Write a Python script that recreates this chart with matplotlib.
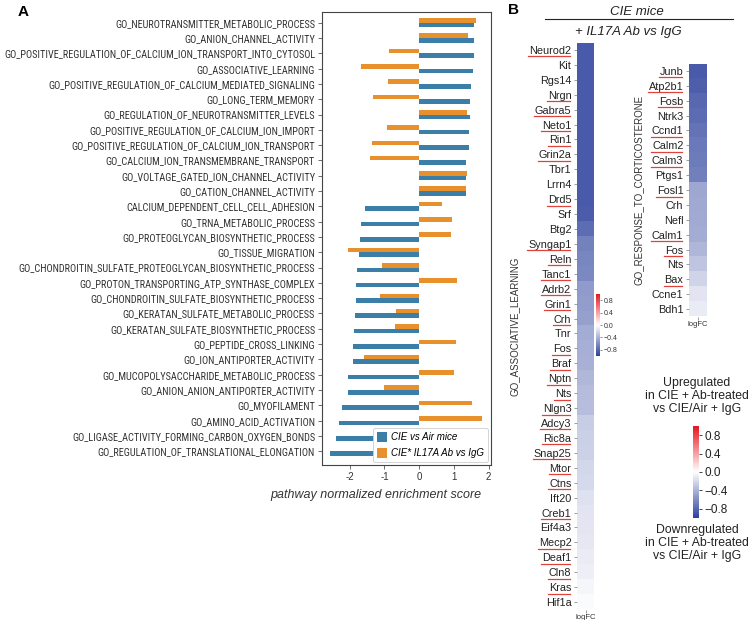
import numpy as np
import matplotlib
matplotlib.use("Agg")
import matplotlib.pyplot as plt
from matplotlib import font_manager
from matplotlib.font_manager import FontProperties
from matplotlib.colors import LinearSegmentedColormap, Normalize
from matplotlib.cm import ScalarMappable
from matplotlib.lines import Line2D

plt.rcParams['font.family'] = ['Liberation Sans', 'DejaVu Sans']

# ---------------- Panel A data ----------------
pathways = [
    "GO_NEUROTRANSMITTER_METABOLIC_PROCESS",
    "GO_ANION_CHANNEL_ACTIVITY",
    "GO_POSITIVE_REGULATION_OF_CALCIUM_ION_TRANSPORT_INTO_CYTOSOL",
    "GO_ASSOCIATIVE_LEARNING",
    "GO_POSITIVE_REGULATION_OF_CALCIUM_MEDIATED_SIGNALING",
    "GO_LONG_TERM_MEMORY",
    "GO_REGULATION_OF_NEUROTRANSMITTER_LEVELS",
    "GO_POSITIVE_REGULATION_OF_CALCIUM_ION_IMPORT",
    "GO_POSITIVE_REGULATION_OF_CALCIUM_ION_TRANSPORT",
    "GO_CALCIUM_ION_TRANSMEMBRANE_TRANSPORT",
    "GO_VOLTAGE_GATED_ION_CHANNEL_ACTIVITY",
    "GO_CATION_CHANNEL_ACTIVITY",
    "CALCIUM_DEPENDENT_CELL_CELL_ADHESION",
    "GO_TRNA_METABOLIC_PROCESS",
    "GO_PROTEOGLYCAN_BIOSYNTHETIC_PROCESS",
    "GO_TISSUE_MIGRATION",
    "GO_CHONDROITIN_SULFATE_PROTEOGLYCAN_BIOSYNTHETIC_PROCESS",
    "GO_PROTON_TRANSPORTING_ATP_SYNTHASE_COMPLEX",
    "GO_CHONDROITIN_SULFATE_BIOSYNTHETIC_PROCESS",
    "GO_KERATAN_SULFATE_METABOLIC_PROCESS",
    "GO_KERATAN_SULFATE_BIOSYNTHETIC_PROCESS",
    "GO_PEPTIDE_CROSS_LINKING",
    "GO_ION_ANTIPORTER_ACTIVITY",
    "GO_MUCOPOLYSACCHARIDE_METABOLIC_PROCESS",
    "GO_ANION_ANION_ANTIPORTER_ACTIVITY",
    "GO_MYOFILAMENT",
    "GO_AMINO_ACID_ACTIVATION",
    "GO_LIGASE_ACTIVITY_FORMING_CARBON_OXYGEN_BONDS",
    "GO_REGULATION_OF_TRANSLATIONAL_ELONGATION",
]
nes_cie_vs_air = [1.59, 1.59, 1.57, 1.55, 1.48, 1.47, 1.47, 1.44, 1.43, 1.36,
                  1.36, 1.35, -1.57, -1.69, -1.71, -1.72, -1.79, -1.81, -1.83, -1.84,
                  -1.87, -1.90, -1.92, -2.04, -2.06, -2.22, -2.32, -2.40, -2.56]
nes_il17a_ab = [1.65, 1.40, -0.88, -1.67, -0.90, -1.32, 1.38, -0.94, -1.35, -1.43,
                1.39, 1.35, 0.65, 0.94, 0.92, -2.04, -1.08, 1.08, -1.12, -0.66,
                -0.71, 1.07, -1.60, 0.99, -1.02, 1.51, 1.80, 1.20, -0.90]
series_names = ["CIE vs Air mice", "CIE* IL17A Ab vs IgG"]
xticks_a = [-2, -1, 0, 1, 2]

# ---------------- Panel B data ----------------
genes_learning = ["Neurod2", "Kit", "Rgs14", "Nrgn", "Gabra5", "Neto1", "Rin1", "Grin2a",
                  "Tbr1", "Lrrn4", "Drd5", "Srf", "Btg2", "Syngap1", "Reln", "Tanc1",
                  "Adrb2", "Grin1", "Crh", "Tnr", "Fos", "Braf", "Nptn", "Nts", "Nlgn3",
                  "Adcy3", "Ric8a", "Snap25", "Mtor", "Ctns", "Ift20", "Creb1", "Eif4a3",
                  "Mecp2", "Deaf1", "Cln8", "Kras", "Hif1a"]
logfc_learning = [-0.86, -0.86, -0.86, -0.86, -0.86, -0.86, -0.86, -0.86,
                  -0.86, -0.86, -0.86, -0.85, -0.76, -0.66, -0.63, -0.62,
                  -0.52, -0.51, -0.50, -0.43, -0.42, -0.41, -0.37, -0.35, -0.34,
                  -0.26, -0.25, -0.24, -0.21, -0.20, -0.15, -0.14, -0.13,
                  -0.12, -0.10, -0.08, -0.04, -0.02]
underlined_learning = ["Neurod2", "Nrgn", "Gabra5", "Neto1", "Rin1", "Grin2a", "Drd5",
                       "Syngap1", "Reln", "Tanc1", "Adrb2", "Grin1", "Crh", "Fos", "Braf",
                       "Nptn", "Nts", "Nlgn3", "Adcy3", "Ric8a", "Snap25", "Mtor", "Ctns",
                       "Creb1", "Mecp2", "Deaf1", "Cln8", "Kras"]

genes_cort = ["Junb", "Atp2b1", "Fosb", "Ntrk3", "Ccnd1", "Calm2", "Calm3", "Ptgs1",
              "Fosl1", "Crh", "Nefl", "Calm1", "Fos", "Nts", "Bax", "Ccne1", "Bdh1"]
logfc_cort = [-0.86, -0.84, -0.79, -0.77, -0.73, -0.70, -0.69, -0.67,
              -0.46, -0.45, -0.44, -0.43, -0.38, -0.30, -0.22, -0.14, -0.10]
underlined_cort = ["Junb", "Atp2b1", "Fosb", "Ccnd1", "Calm2", "Calm3", "Fosl1",
                   "Calm1", "Fos", "Bax"]
cbar_ticks = [-0.8, -0.4, 0.0, 0.4, 0.8]


def find_narrow_font():
    """Look for an installed condensed/narrow sans font for the long GO labels."""
    best = None
    for f in font_manager.fontManager.ttflist:
        name = f.name.lower()
        stretch = str(f.stretch).lower()
        narrow = ('narrow' in name or 'condensed' in name or
                  stretch in ('condensed', 'semi-condensed', 'extra-condensed'))
        if not narrow:
            continue
        if f.style != 'normal':
            continue
        w = f.weight if isinstance(f.weight, int) else 400
        if w != 400:
            continue
        score = 0 if 'liberation' in name else (1 if 'roboto' in name else 2)
        if best is None or score < best[0]:
            best = (score, f.fname)
    return best[1] if best else None


narrow_fname = find_narrow_font()
label_fp = FontProperties(fname=narrow_fname) if narrow_fname else FontProperties(family='Liberation Sans')

# ---------------- Figure ----------------
W, H = 749, 620
fig = plt.figure(figsize=(W / 100, H / 100), dpi=100)

blue = "#3b7ea8"
orange = "#e8912c"

# Panel A
axA = fig.add_axes([322 / W, 1 - 465 / H, (491 - 322) / W, (465 - 12) / H])
y = np.arange(len(pathways))
bh = 0.3
axA.barh(y + bh / 2, nes_cie_vs_air, height=bh, color=blue, label=series_names[0])
axA.barh(y - bh / 2, nes_il17a_ab, height=bh, color=orange, label=series_names[1])
axA.set_yticks(y)
ticklabs = axA.set_yticklabels(pathways, color="#222222", fontproperties=label_fp)
for t in ticklabs:
    t.set_fontsize(7.0)
axA.set_ylim(len(pathways) - 1 + 0.9, -0.7)
axA.set_xlim(-2.8, 2.07)
axA.set_xticks(xticks_a)
axA.set_xticklabels([f"{v}" for v in xticks_a], fontsize=7)
axA.tick_params(axis='both', length=3, width=0.6, color="#555555", pad=2, labelcolor="#333333")
for s in axA.spines.values():
    s.set_color("#444444")
    s.set_linewidth(0.8)
axA.set_xlabel("pathway normalized enrichment score", fontsize=9, style='italic', color="#333333")
axA.xaxis.set_label_coords(0.32, -0.052)
leg = axA.legend(loc='lower right', prop={'style': 'italic', 'size': 7},
                 handlelength=1.1, handleheight=1.1, handletextpad=0.4,
                 frameon=True, framealpha=1, edgecolor="#cccccc", fancybox=True,
                 borderaxespad=0.3, labelspacing=0.6)
leg.get_frame().set_linewidth(0.6)

fig.text(18 / W, 1 - 12 / H, "A", fontsize=11, fontweight='bold', ha='left', va='center')
fig.text(508 / W, 1 - 10 / H, "B", fontsize=11, fontweight='bold', ha='left', va='center')

# Panel B colormap
cmap = LinearSegmentedColormap.from_list("bwr_custom", ["#2c419c", "#ffffff", "#e6161f"])
norm = Normalize(vmin=-1, vmax=1)

def heat(ax, genes, vals, ylabel):
    ax.imshow(np.array(vals).reshape(-1, 1), aspect='auto', cmap=cmap, norm=norm,
              interpolation='nearest')
    ax.set_yticks(np.arange(len(genes)))
    ax.set_yticklabels(genes, fontsize=7.8, color="#222222")
    ax.set_xticks([0])
    ax.set_xticklabels(["logFC"], fontsize=5.5, color="#333333")
    ax.tick_params(axis='y', length=2.5, width=0.5, color="#777777", pad=1.5)
    ax.tick_params(axis='x', length=2, width=0.5, color="#777777", pad=1.5)
    for s in ax.spines.values():
        s.set_visible(False)
    ax.set_ylabel(ylabel, fontsize=7, color="#333333", labelpad=6)

ax1 = fig.add_axes([577 / W, 1 - 609.5 / H, 17 / W, (609.5 - 42.5) / H])
heat(ax1, genes_learning, logfc_learning, "GO_ASSOCIATIVE_LEARNING")
ax1.yaxis.set_label_coords(-3.35, 0.5)

ax2 = fig.add_axes([689 / W, 1 - 316.5 / H, 18 / W, (316.5 - 63.5) / H])
heat(ax2, genes_cort, logfc_cort, "GO_RESPONSE_TO_CORTICOSTERONE")
ax2.yaxis.set_label_coords(-2.5, 0.5)

sm = ScalarMappable(norm=norm, cmap=cmap)

cax1 = fig.add_axes([596 / W, 1 - 356 / H, 4 / W, 62 / H])
cb1 = fig.colorbar(sm, cax=cax1, ticks=cbar_ticks)
cb1.outline.set_visible(False)
cb1.ax.tick_params(labelsize=5, length=1.5, width=0.4, pad=1, colors="#333333")
cb1.ax.set_yticklabels([f"{t:.1f}".replace("-", "\u2212") for t in cbar_ticks])

cax2 = fig.add_axes([693 / W, 1 - 518 / H, 6 / W, 92 / H])
cb2 = fig.colorbar(sm, cax=cax2, ticks=cbar_ticks)
cb2.outline.set_visible(False)
cb2.ax.tick_params(labelsize=8.5, length=2.5, width=0.6, pad=1.5, colors="#222222")
cb2.ax.set_yticklabels([f"{t:.1f}".replace("-", "\u2212") for t in cbar_ticks])

fig.text(697 / W, 1 - 396 / H, "Upregulated\nin CIE + Ab-treated\nvs CIE/Air + IgG",
         ha='center', va='center', fontsize=8.8, color="#222222", linespacing=1.15)
fig.text(697 / W, 1 - 543 / H, "Downregulated\nin CIE + Ab-treated\nvs CIE/Air + IgG",
         ha='center', va='center', fontsize=8.8, color="#222222", linespacing=1.15)

# Panel B header
fig.text(637 / W, 1 - 12 / H, "CIE mice", ha='center', va='center', fontsize=9.5,
         style='italic', color="#222222")
fig.add_artist(Line2D([545 / W, 733 / W], [1 - 19 / H, 1 - 19 / H], transform=fig.transFigure,
                      color="#222222", lw=0.8))
fig.text(628 / W, 1 - 32 / H, "+ IL17A Ab vs IgG", ha='center', va='center', fontsize=9.5,
         style='italic', color="#222222")

# fit the GO labels into the space left of panel A (longest label spans ~316 px)
fig.canvas.draw()
renderer = fig.canvas.get_renderer()
maxw = max(t.get_window_extent(renderer).width for t in axA.get_yticklabels())
new_size = min(8.0, 7.0 * 315.0 / maxw)
for t in axA.get_yticklabels():
    t.set_fontsize(new_size)

# red underlines
fig.canvas.draw()
for ax, under in ((ax1, underlined_learning), (ax2, underlined_cort)):
    for lab in ax.get_yticklabels():
        if lab.get_text() in under:
            bb = lab.get_window_extent(renderer)
            yy = (bb.y0 - 0.5) / H
            fig.add_artist(Line2D([(bb.x0 - 1) / W, (bb.x1 - 1) / W], [yy, yy],
                                  transform=fig.transFigure, color="#e0413a", lw=0.9))

fig.savefig("out.png", dpi=100)
